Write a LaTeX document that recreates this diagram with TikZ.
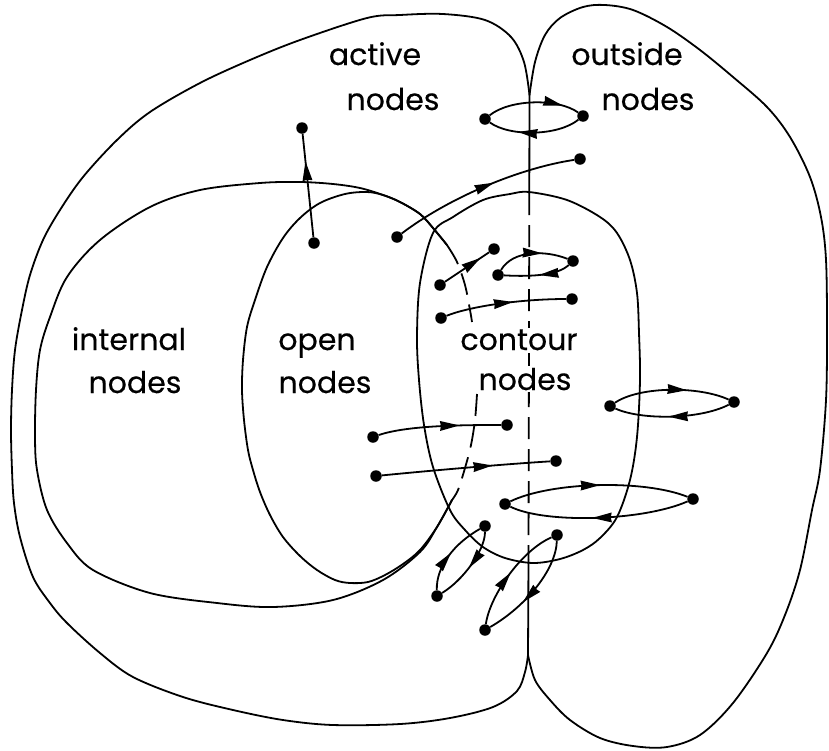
\documentclass[tikz,border=0pt]{standalone}
\usepackage{fontspec}
\setmainfont{Poppins}
\newfontfamily\lblfont{Poppins}[FakeBold=0.35]
\usetikzlibrary{decorations.markings}
\begin{document}
\begin{tikzpicture}[x=1pt,y=-1pt,
  bnd/.style={line width=1.8pt, line join=round, line cap=round},
  conn/.style={line width=1.8pt},
  vtx/.style={circle, fill=black, inner sep=0pt, minimum size=11.5pt},
  midarrow/.style={postaction={decorate}, decoration={markings, mark=at position #1 with {\fill[line join=miter] (1.5pt,0pt) -- (-18pt,5pt) -- (-17pt,0pt) -- (-18pt,-5pt) -- cycle;}}},
  lbl/.style={font=\lblfont\fontsize{30}{34}\selectfont, inner sep=0pt, anchor=base},
  wlbl/.style={lbl, fill=white, inner sep=1.5pt},
  dsh/.style={bnd, line cap=butt, dash pattern=on 22pt off 10pt},
]
\useasboundingbox (0,0) rectangle (829,750);

% outer left shape (active nodes)
\draw[bnd] plot[smooth, tension=0.55] coordinates {
 (529.5,95) (524,62) (511,37) (485,20) (443,14) (400,15) (367,18) (300,40) (250,60)
 (200,83) (150,112) (117,140) (83,177) (60,210) (43,240) (30,275) (22,310) (15,350)
 (12,390) (11,430) (12,470) (14,503) (20,537) (33,577) (50,603) (67,623) (100,653)
 (133,677) (183,697) (233,710) (283,720) (333,725) (400,724) (450,718) (493,707)
 (517,691) (525,672) (528,655)};

% outer right shape (outside nodes)
\draw[bnd] plot[smooth, tension=0.55] coordinates {
 (529.5,95) (535,62) (545,35) (560,18) (583,7) (605,5) (633,10) (667,27) (700,50)
 (733,77) (767,107) (790,137) (810,177) (821,217) (826,260) (827,330) (826,400)
 (820,470) (812,510) (800,570) (785,615) (767,653) (733,703) (700,735) (667,747)
 (633,746) (600,738) (570,720) (550,700) (535,680) (528,655)};

% divider
\draw[bnd] (529.5,95) -- (529.3,193);
\draw[dsh] (529.3,193) -- (528.5,560);
\draw[bnd] (528.5,560) -- (528,655);

% internal nodes shape
\draw[bnd] plot[smooth, tension=0.55] coordinates {
 (447,245) (433,228) (420,214) (400,202) (383,195) (360,188) (333,184) (300,182)
 (260,183) (200,190) (150,207) (100,240) (67,277) (50,317) (40,350) (36,390)
 (35,437) (37,470) (47,510) (67,543) (93,570) (150,593) (217,603) (273,607)
 (333,600) (383,580) (420,552) (437,527) (452,500)};

% open nodes shape
\draw[bnd] plot[smooth, tension=0.55] coordinates {
 (447,245) (433,228) (420,214) (400,202) (383,195) (367,192) (345,194) (320,203)
 (300,218) (283,238) (267,267) (255,300) (247,327) (243,360) (242,390) (244,420)
 (248,450) (253,470) (260,492) (270,515) (283,537) (300,556) (317,570) (335,580)
 (350,583) (368,582) (385,575) (403,564) (420,550) (437,527) (452,500)};
\draw[dsh] plot[smooth, tension=0.55] coordinates {
 (447,245) (457,262) (465,285) (470,310) (472,322)};
\draw[dsh] plot[smooth, tension=0.55] coordinates {
 (477,394) (475,420) (471,445) (465,468) (458,490) (452,500)};

% contour nodes shape
\draw[bnd] plot[smooth cycle, tension=0.55] coordinates {
 (529,192) (567,200) (600,217) (617,233) (630,260) (637,293) (639,333) (640,380)
 (637,437) (630,480) (617,517) (600,538) (583,550) (560,559) (533,563) (505,558)
 (483,547) (465,530) (450,510) (433,467) (424,425) (419,380) (417,337) (420,283)
 (433,233) (453,217) (483,200) (510,194)};

% labels
\node[lbl] (tact) at (375,65) {active};
\node[lbl] (tactn) at (393,110) {nodes};
\node[lbl] (tout) at (627,65) {outside};
\node[lbl] (toutn) at (648,110) {nodes};
\node[lbl] (tint) at (129,350) {internal};
\node[lbl] (tintn) at (135,393) {nodes};
\node[lbl] (topen) at (317,350) {open};
\node[lbl] (topenn) at (325,393) {nodes};
\node[wlbl] (tcon) at (519,350) {contour};
\node[wlbl] (tconn) at (525,390) {nodes};

% graph nodes
\node[vtx] (A) at (302,128) {};
\node[vtx] (B) at (314,243) {};
\node[vtx] (C) at (397,237) {};
\node[vtx] (D) at (580,159) {};
\node[vtx] (E) at (485,119) {};
\node[vtx] (F) at (583,116) {};
\node[vtx] (G) at (440,285) {};
\node[vtx] (H) at (494,249) {};
\node[vtx] (I) at (498,275) {};
\node[vtx] (J) at (573,261) {};
\node[vtx] (K) at (441,318) {};
\node[vtx] (L) at (572,299) {};
\node[vtx] (M) at (373,437) {};
\node[vtx] (N) at (507,425) {};
\node[vtx] (O) at (376,476) {};
\node[vtx] (P) at (556,461) {};
\node[vtx] (Q) at (610,406) {};
\node[vtx] (R) at (734,402) {};
\node[vtx] (S) at (505,504) {};
\node[vtx] (T) at (693,499) {};
\node[vtx] (U) at (485,526) {};
\node[vtx] (V) at (437,596) {};
\node[vtx] (W) at (557,535) {};
\node[vtx] (X) at (485,630) {};

% connectors
\draw[conn, midarrow=0.72] (B) -- (A);
\draw[conn, midarrow=0.55] (C) .. controls +(53,-40) and +(-60,9) .. (D);
\draw[conn, midarrow=0.8] (E) .. controls +(25,-20) and +(-25,-18) .. (F);
\draw[conn, midarrow=0.66] (F) .. controls +(-25,20) and +(25,18) .. (E);
\draw[conn, midarrow=0.78] (G) -- (H);
\draw[conn, midarrow=0.62] (I) .. controls +(15,-25) and +(-28,-11) .. (J);
\draw[conn, midarrow=0.45] (J) .. controls +(-15,14) and +(35,2) .. (I);
\draw[conn, midarrow=0.55] (K) .. controls +(30,-12) and +(-50,0) .. (L);
\draw[conn, midarrow=0.65] (M) .. controls +(35,-12) and +(-40,0) .. (N);
\draw[conn, midarrow=0.65] (O) .. controls +(50,-5) and +(-50,3) .. (P);
\draw[conn, midarrow=0.62] (Q) .. controls +(30,-20) and +(-35,-16) .. (R);
\draw[conn, midarrow=0.52] (R) .. controls +(-35,18) and +(30,14) .. (Q);
\draw[conn, midarrow=0.5] (S) .. controls +(45,-22) and +(-50,-20) .. (T);
\draw[conn, midarrow=0.53] (T) .. controls +(-50,22) and +(40,20) .. (S);
\draw[conn, midarrow=0.5] (V) .. controls +(-1,-30) and +(-30,17) .. (U);
\draw[conn, midarrow=0.5] (U) .. controls +(0,25) and +(25,-15) .. (V);
\draw[conn, midarrow=0.5] (X) .. controls +(5,-35) and +(-35,15) .. (W);
\draw[conn, midarrow=0.62] (W) .. controls +(-1,35) and +(40,-23) .. (X);
\end{tikzpicture}
\end{document}
